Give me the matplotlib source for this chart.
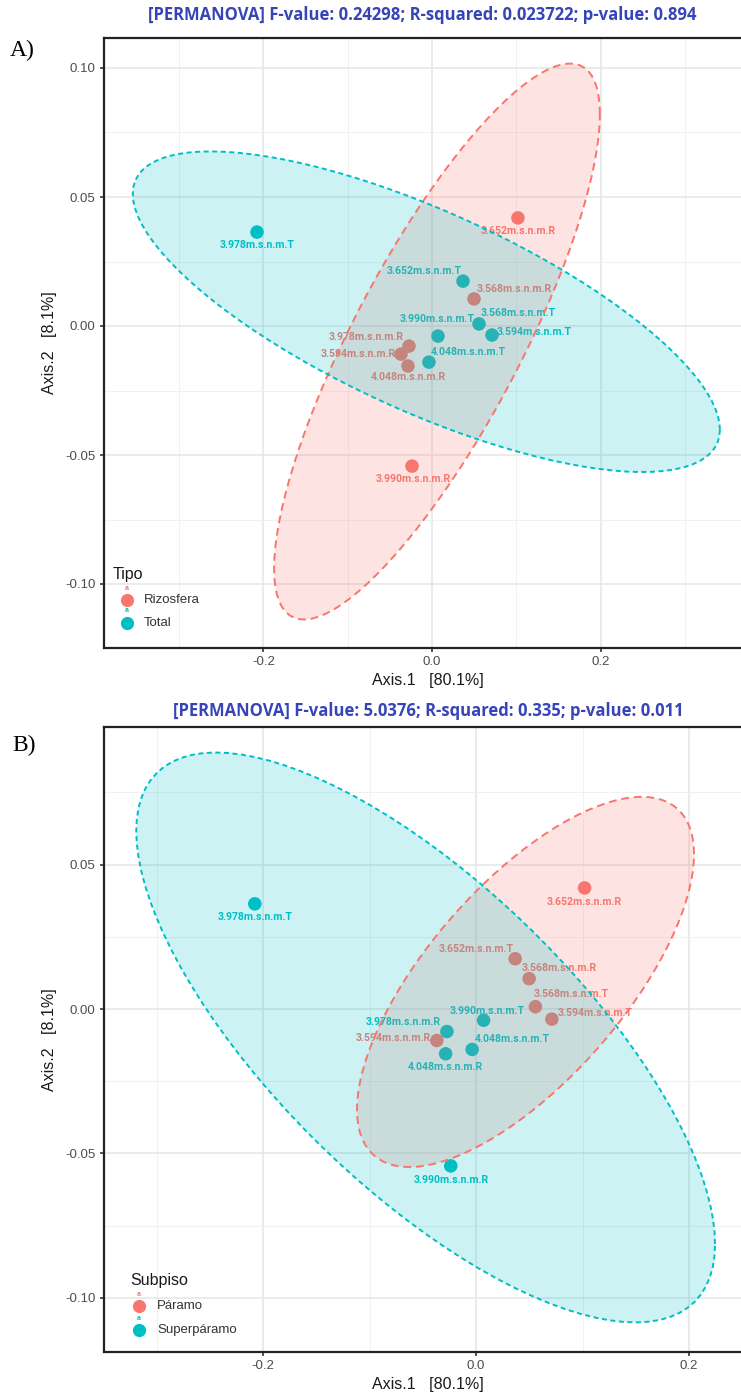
import numpy as np
import matplotlib
matplotlib.use("Agg")
import matplotlib.pyplot as plt
from matplotlib.ticker import FixedLocator

# ---------------- data ----------------
sample_names = ["3.978m.s.n.m.T", "3.652m.s.n.m.R", "3.652m.s.n.m.T", "3.568m.s.n.m.R",
                "3.568m.s.n.m.T", "3.594m.s.n.m.T", "3.990m.s.n.m.T", "3.978m.s.n.m.R",
                "3.594m.s.n.m.R", "4.048m.s.n.m.R", "4.048m.s.n.m.T", "3.990m.s.n.m.R"]
axis1 = [-0.2077, 0.1020, 0.0368, 0.0499, 0.0558, 0.0712, 0.0071, -0.0273,
         -0.0368, -0.0285, -0.0036, -0.0237]
axis2 = [0.0364, 0.0419, 0.0174, 0.0105, 0.0008, -0.0035, -0.0039, -0.0078,
         -0.0109, -0.0155, -0.0140, -0.0543]
tipo = ["Total", "Rizosfera", "Total", "Rizosfera", "Total", "Total", "Total",
        "Rizosfera", "Rizosfera", "Rizosfera", "Total", "Rizosfera"]
subpiso = ["Superpáramo", "Páramo", "Páramo", "Páramo", "Páramo", "Páramo",
           "Superpáramo", "Superpáramo", "Páramo", "Superpáramo", "Superpáramo", "Superpáramo"]
tipo_levels = ["Rizosfera", "Total"]
subpiso_levels = ["Páramo", "Superpáramo"]
title_a = "[PERMANOVA] F-value: 0.24298; R-squared: 0.023722; p-value: 0.894"
title_b = "[PERMANOVA] F-value: 5.0376; R-squared: 0.335; p-value: 0.011"
xlab = "Axis.1   [80.1%]"
ylab = "Axis.2   [8.1%]"

# ---------------- style / layout ----------------
W, H = 741, 1397
COLORS = ["#F8766D", "#00BFC4"]
# label offsets in pixels (right, down) for ggrepel-like placement
off_a = [(0, 13), (0, 13), (-39, -10), (40, -10), (39, -11), (42, -3), (-1, -17),
         (-43, -9), (-43, 0), (0, 11), (39, -10), (1, 13)]
off_b = [(0, 13), (0, 14), (-39, -10), (30, -11), (36, -13), (43, -6), (4, -9),
         (-44, -10), (-44, -2), (0, 13), (40, -10), (0, 14)]

plt.rcParams["font.family"] = ["Liberation Sans", "DejaVu Sans"]

fig = plt.figure(figsize=(W / 100, H / 100), dpi=100)


def fx(x):
    return x / W


def fy(y):
    return 1 - y / H


def ellipse_pts(X, level=0.95, segments=101):
    cov = np.cov(X.T, ddof=1)
    center = X.mean(axis=0)
    dfd = X.shape[0] - 1
    fq = (dfd / 2) * ((1 - level) ** (-2 / dfd) - 1)  # qf(level, 2, dfd)
    radius = np.sqrt(2 * fq)
    R = np.linalg.cholesky(cov).T
    ang = np.linspace(0, 2 * np.pi, segments)
    unit = np.column_stack([np.cos(ang), np.sin(ang)])
    return center + radius * unit @ R


def panel(box, xlim, ylim, yticks, groups, levels, offsets, title, title_xy,
          tag, tag_xy, leg_title, leg_rows):
    l, t, r, b = box
    ax = fig.add_axes([fx(l), fy(b), fx(r) - fx(l), fy(t) - fy(b)])
    ax.set_xlim(*xlim)
    ax.set_ylim(*ylim)
    ax.set_facecolor("white")
    ax.xaxis.set_major_locator(FixedLocator([-0.2, 0.0, 0.2]))
    ax.set_xticklabels(["-0.2", "0.0", "0.2"])
    ax.xaxis.set_minor_locator(FixedLocator([-0.3, -0.1, 0.1, 0.3]))
    ax.yaxis.set_major_locator(FixedLocator(yticks))
    ax.set_yticklabels([f"{v:.2f}".replace("-0.00", "0.00") for v in yticks])
    ax.yaxis.set_minor_locator(FixedLocator([v + 0.025 for v in yticks] + [yticks[0] - 0.025]))
    ax.grid(which="major", color="#E6E6E6", lw=1.1, zorder=0)
    ax.grid(which="minor", color="#EFEFEF", lw=0.6, zorder=0)
    ax.set_axisbelow(True)
    ax.tick_params(which="major", length=3, width=1.2, color="#333333",
                   labelsize=9.5, labelcolor="#4D4D4D", pad=3)
    ax.tick_params(which="minor", length=0)
    for s in ["left", "bottom", "top"]:
        ax.spines[s].set_color("#222222")
        ax.spines[s].set_linewidth(1.6)
    ax.spines["right"].set_visible(False)
    ax.set_xlabel(xlab, fontsize=11.5, color="#1A1A1A", labelpad=3)
    ax.set_ylabel(ylab, fontsize=11.5, color="#1A1A1A", labelpad=6)

    x = np.array(axis1)
    y = np.array(axis2)
    cols = [COLORS[levels.index(g)] for g in groups]
    ax.scatter(x, y, s=95, c=cols, edgecolors="none", zorder=3)
    for i, name in enumerate(sample_names):
        dx, dy = offsets[i]
        ax.annotate(name, (x[i], y[i]), xytext=(dx, -dy), textcoords="offset pixels",
                    ha="center", va="center", fontsize=7.6, fontweight="bold",
                    family=["Roboto", "DejaVu Sans"], color=cols[i], zorder=3)
    for k, lev in enumerate(levels):
        idx = [i for i, g in enumerate(groups) if g == lev]
        E = ellipse_pts(np.column_stack([x[idx], y[idx]]))
        ax.fill(E[:, 0], E[:, 1], color=COLORS[k], alpha=0.2, lw=0, zorder=4)
        dash = (2.6, 1.8) if k == 1 else (4, 2.5)
        ax.plot(E[:, 0], E[:, 1], color=COLORS[k], lw=1.4, ls=(0, dash), zorder=5)

    fig.text(fx(title_xy[0]), fy(title_xy[1]), title, ha="center", va="center",
             fontsize=12, fontweight="bold", color="#3644B8",
             family=["Open Sans", "DejaVu Sans"])
    fig.text(fx(tag_xy[0]), fy(tag_xy[1]), tag, ha="left", va="center",
             fontsize=17, family=["Liberation Serif", "DejaVu Serif"], color="black")

    # legend
    (tx, ty), (mx, my0, dy), txt_x = leg_rows
    fig.text(fx(tx), fy(ty), leg_title, ha="left", va="center", fontsize=11.5,
             color="#1A1A1A")
    for k, lev in enumerate(levels):
        yy = my0 + k * dy
        ax.plot([fx(mx)], [fy(yy)], "o", ms=9.5, color=COLORS[k], mec="none",
                transform=fig.transFigure, clip_on=False, zorder=6)
        ax.text(fx(mx), fy(yy - 12), "a", transform=fig.transFigure, ha="center",
                va="center", fontsize=5, fontweight="bold", color=COLORS[k],
                clip_on=False, zorder=7)
        fig.text(fx(txt_x), fy(yy), lev, ha="left", va="center", fontsize=9.5,
                 color="#333333")
    return ax


# panel A
A_l, A_t, A_r, A_b = 104, 38, 752, 648
panel((A_l, A_t, A_r, A_b),
      ((A_l - 432) / 842.5, (A_r - 432) / 842.5),
      (-(A_b - 326) / 2580, (326 - A_t) / 2580),
      [-0.10, -0.05, 0.00, 0.05, 0.10],
      tipo, tipo_levels, off_a, title_a, (422, 15), "A)", (10, 50),
      "Tipo", ((113, 574), (127, 600, 23), 144))

# panel B
B_l, B_t, B_r, B_b = 104, 727, 752, 1352
panel((B_l, B_t, B_r, B_b),
      ((B_l - 476) / 1065, (B_r - 476) / 1065),
      (-(B_b - 1009) / 2889, (1009 - B_t) / 2889),
      [-0.10, -0.05, 0.00, 0.05],
      subpiso, subpiso_levels, off_b, title_b, (428, 711), "B)", (12, 745),
      "Subpiso", ((130, 1280), (139, 1306, 24), 157))

fig.savefig("out.png", dpi=100)
